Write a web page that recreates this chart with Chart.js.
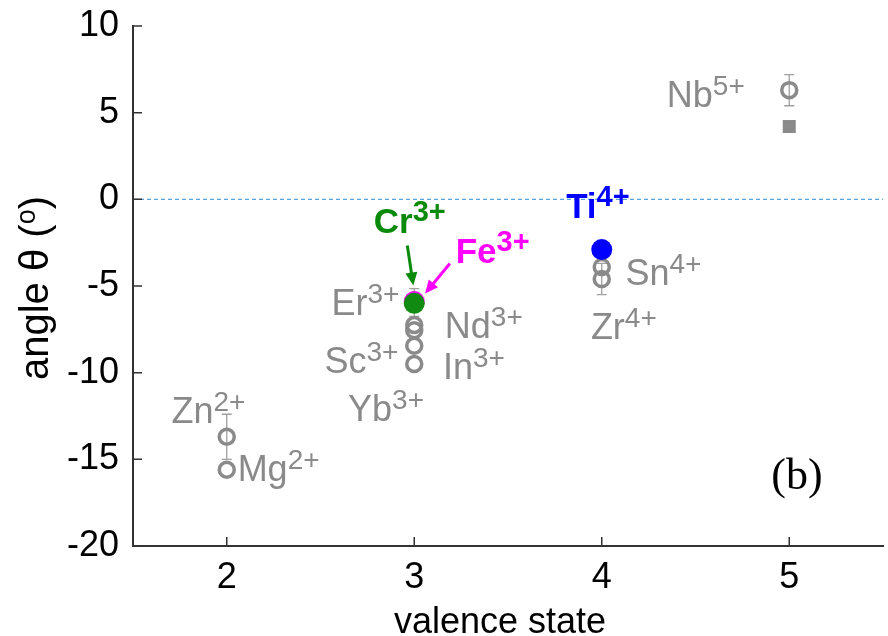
<!DOCTYPE html>
<html>
<head>
<meta charset="utf-8">
<title>Angle vs valence state</title>
<script src="https://cdn.jsdelivr.net/npm/chart.js@4.4.0/dist/chart.umd.min.js"></script>
<style>
  html, body { margin: 0; padding: 0; background: #fff; overflow: hidden; }
  #wrap { position: relative; width: 894px; height: 636px; }
</style>
</head>
<body>
<div id="wrap"><canvas id="chart"></canvas></div>
<script>
// dopant ions: valence state, angle theta (deg), error
const grayIons  = ['Zn', 'Mg', 'Er', 'Nd', 'Yb', 'Sc', 'In', 'Sn', 'Zr', 'Nb'];
const grayX     = [2, 2, 3, 3, 3, 3, 3, 4, 4, 5];
const grayY     = [-13.7, -15.6, -5.95, -7.25, -7.55, -8.45, -9.5, -3.9, -4.6, 6.3];
const grayErr   = [1.3, 0, 0.8, 0, 0, 0, 0, 0, 0.9, 0.9];

const nbSquareX = [5];
const nbSquareY = [4.2];

const feX = [3];
const feY = [-5.9];
const crX = [3];
const crY = [-6.0];
const tiX = [4];
const tiY = [-2.9];

const xTicks = [2, 3, 4, 5];
const yTicks = [-20, -15, -10, -5, 0, 5, 10];

const GRAY = '#8a8a8a';
const FONT = "'Liberation Sans', Arial, sans-serif";

// ion labels: anchor is the left end of the baseline, in data units
const ionLabels = [
  { base: 'Zn', sup: '2+', x: 1.705, y: -12.9, color: GRAY },
  { base: 'Mg', sup: '2+', x: 2.058, y: -16.25, color: GRAY },
  { base: 'Er', sup: '3+', x: 2.558, y: -6.7, color: GRAY },
  { base: 'Nd', sup: '3+', x: 3.163, y: -7.98, color: GRAY },
  { base: 'Sc', sup: '3+', x: 2.521, y: -10.0, color: GRAY },
  { base: 'In', sup: '3+', x: 3.153, y: -10.35, color: GRAY },
  { base: 'Yb', sup: '3+', x: 2.647, y: -12.77, color: GRAY },
  { base: 'Sn', sup: '4+', x: 4.126, y: -4.97, color: GRAY },
  { base: 'Zr', sup: '4+', x: 3.942, y: -8.03, color: GRAY },
  { base: 'Nb', sup: '5+', x: 4.347, y: 5.32, color: GRAY },
  { base: 'Cr', sup: '3+', x: 2.784, y: -1.97, color: '#0a8a0a', bold: true },
  { base: 'Fe', sup: '3+', x: 3.221, y: -3.7, color: '#ff00ff', bold: true },
  { base: 'Ti', sup: '4+', x: 3.81, y: -1.1, color: '#0000ff', bold: true }
];

const arrows = [
  { from: [2.963, -2.66], to: [2.995, -4.97], color: '#0a8a0a' },
  { from: [3.19, -3.7], to: [3.058, -5.43], color: '#ff00ff' }
];

function toPoints(xs, ys) {
  return xs.map((x, i) => ({ x: x, y: ys[i] }));
}

function drawIon(ctx, lbl, px, py) {
  const w = lbl.bold ? 'bold ' : '';
  const baseSize = lbl.bold ? 35 : 36;
  const supSize = lbl.bold ? 29 : 28;
  ctx.fillStyle = lbl.color;
  ctx.textAlign = 'left';
  ctx.textBaseline = 'alphabetic';
  ctx.font = w + baseSize + 'px ' + FONT;
  ctx.fillText(lbl.base, px, py);
  const bw = ctx.measureText(lbl.base).width;
  ctx.font = w + supSize + 'px ' + FONT;
  ctx.fillText(lbl.sup, px + bw, py - 12);
}

const decorPlugin = {
  id: 'decor',
  beforeDatasetsDraw(chart) {
    const { ctx, chartArea, scales: { x, y } } = chart;
    ctx.save();
    // zero reference line
    ctx.strokeStyle = '#5aa2de';
    ctx.lineWidth = 1.2;
    ctx.setLineDash([4, 3]);
    ctx.beginPath();
    ctx.moveTo(chartArea.left, y.getPixelForValue(0));
    ctx.lineTo(chartArea.right, y.getPixelForValue(0));
    ctx.stroke();
    ctx.setLineDash([]);

    // error bars
    ctx.strokeStyle = '#a0a0a0';
    ctx.lineWidth = 1.3;
    grayErr.forEach((e, i) => {
      if (!e) return;
      const px = x.getPixelForValue(grayX[i]);
      const top = y.getPixelForValue(grayY[i] + e);
      const bot = y.getPixelForValue(grayY[i] - e);
      ctx.beginPath();
      ctx.moveTo(px, top); ctx.lineTo(px, bot);
      ctx.moveTo(px - 5, top); ctx.lineTo(px + 5, top);
      ctx.moveTo(px - 5, bot); ctx.lineTo(px + 5, bot);
      ctx.stroke();
    });
    ctx.restore();
  },
  afterDraw(chart) {
    const { ctx, chartArea, scales: { x, y } } = chart;
    ctx.save();

    // inward tick marks
    ctx.strokeStyle = '#333';
    ctx.lineWidth = 1.5;
    ctx.beginPath();
    xTicks.forEach(v => {
      const px = x.getPixelForValue(v);
      ctx.moveTo(px, chartArea.bottom);
      ctx.lineTo(px, chartArea.bottom - 9);
    });
    yTicks.forEach(v => {
      const py = y.getPixelForValue(v);
      ctx.moveTo(chartArea.left, py);
      ctx.lineTo(chartArea.left + 9, py);
    });
    ctx.stroke();

    // arrows to Cr and Fe points
    arrows.forEach(a => {
      const x1 = x.getPixelForValue(a.from[0]), y1 = y.getPixelForValue(a.from[1]);
      const x2 = x.getPixelForValue(a.to[0]), y2 = y.getPixelForValue(a.to[1]);
      const ang = Math.atan2(y2 - y1, x2 - x1);
      const head = 13;
      ctx.strokeStyle = a.color;
      ctx.fillStyle = a.color;
      ctx.lineWidth = 3;
      ctx.beginPath();
      ctx.moveTo(x1, y1);
      ctx.lineTo(x2 - head * 0.8 * Math.cos(ang), y2 - head * 0.8 * Math.sin(ang));
      ctx.stroke();
      ctx.beginPath();
      ctx.moveTo(x2, y2);
      ctx.lineTo(x2 - head * Math.cos(ang) + 6 * Math.sin(ang), y2 - head * Math.sin(ang) - 6 * Math.cos(ang));
      ctx.lineTo(x2 - head * Math.cos(ang) - 6 * Math.sin(ang), y2 - head * Math.sin(ang) + 6 * Math.cos(ang));
      ctx.closePath();
      ctx.fill();
    });

    // ion labels
    ionLabels.forEach(l => drawIon(ctx, l, x.getPixelForValue(l.x), y.getPixelForValue(l.y)));

    // panel tag
    ctx.fillStyle = '#000';
    ctx.font = "44px 'Liberation Serif', 'Times New Roman', serif";
    ctx.textAlign = 'center';
    ctx.textBaseline = 'middle';
    ctx.fillText('(b)', 797, 477);

    // x axis title
    ctx.font = '36px ' + FONT;
    ctx.textBaseline = 'alphabetic';
    ctx.fillText('valence state', 500, 633);

    // y axis title with superscript degree
    ctx.translate(48, 288);
    ctx.rotate(-Math.PI / 2);
    ctx.font = '40px ' + FONT;
    const p1 = 'angle \u03b8 (';
    const w1 = ctx.measureText(p1).width;
    ctx.font = '27px ' + FONT;
    const w2 = ctx.measureText('o').width;
    ctx.font = '40px ' + FONT;
    const w3 = ctx.measureText(')').width;
    let sx = -(w1 + w2 + w3) / 2;
    ctx.textAlign = 'left';
    ctx.fillText(p1, sx, 0);
    ctx.font = '27px ' + FONT;
    ctx.fillText('o', sx + w1, -13);
    ctx.font = '40px ' + FONT;
    ctx.fillText(')', sx + w1 + w2, 0);
    ctx.restore();
  }
};

// dataset 0 is drawn on top
new Chart(document.getElementById('chart'), {
  type: 'scatter',
  data: {
    datasets: [
      {
        label: 'Cr',
        data: toPoints(crX, crY),
        pointRadius: 10.5,
        pointBorderWidth: 0,
        backgroundColor: '#118a11'
      },
      {
        label: 'Fe',
        data: toPoints(feX, feY),
        pointRadius: 10.5,
        pointBorderWidth: 0,
        backgroundColor: '#ff00ff'
      },
      {
        label: 'Ti',
        data: toPoints(tiX, tiY),
        pointRadius: 10.5,
        pointBorderWidth: 0,
        backgroundColor: '#0000ff'
      },
      {
        label: 'Nb square',
        data: toPoints(nbSquareX, nbSquareY),
        pointStyle: 'rect',
        pointRadius: 9.2,
        pointBorderWidth: 0,
        borderColor: GRAY,
        backgroundColor: GRAY
      },
      {
        label: 'ions',
        data: toPoints(grayX, grayY),
        pointStyle: 'circle',
        pointRadius: 7.5,
        pointBorderWidth: 3.5,
        borderColor: GRAY,
        backgroundColor: 'rgba(0,0,0,0)'
      }
    ]
  },
  options: {
    responsive: true,
    maintainAspectRatio: false,
    animation: false,
    layout: { padding: { top: 26, right: 0, left: 0, bottom: 0 } },
    plugins: {
      legend: { display: false },
      tooltip: { enabled: false }
    },
    scales: {
      x: {
        type: 'linear',
        min: 1.5,
        max: 5.5,
        afterBuildTicks: s => { s.ticks = xTicks.map(v => ({ value: v })); },
        afterFit: s => { s.height = 90; s.paddingLeft = 0; s.paddingRight = 0; },
        grid: { display: false, drawTicks: false },
        border: { display: true, color: '#333', width: 2 },
        ticks: {
          padding: 10,
          color: '#000',
          font: { family: FONT, size: 36 }
        }
      },
      y: {
        min: -20,
        max: 10,
        afterBuildTicks: s => { s.ticks = yTicks.map(v => ({ value: v })); },
        afterFit: s => { s.width = 133; s.paddingTop = 0; s.paddingBottom = 0; },
        grid: { display: false, drawTicks: false },
        border: { display: true, color: '#333', width: 2 },
        ticks: {
          padding: 14,
          color: '#000',
          font: { family: FONT, size: 36 }
        }
      }
    }
  },
  plugins: [decorPlugin]
});
</script>
</body>
</html>
